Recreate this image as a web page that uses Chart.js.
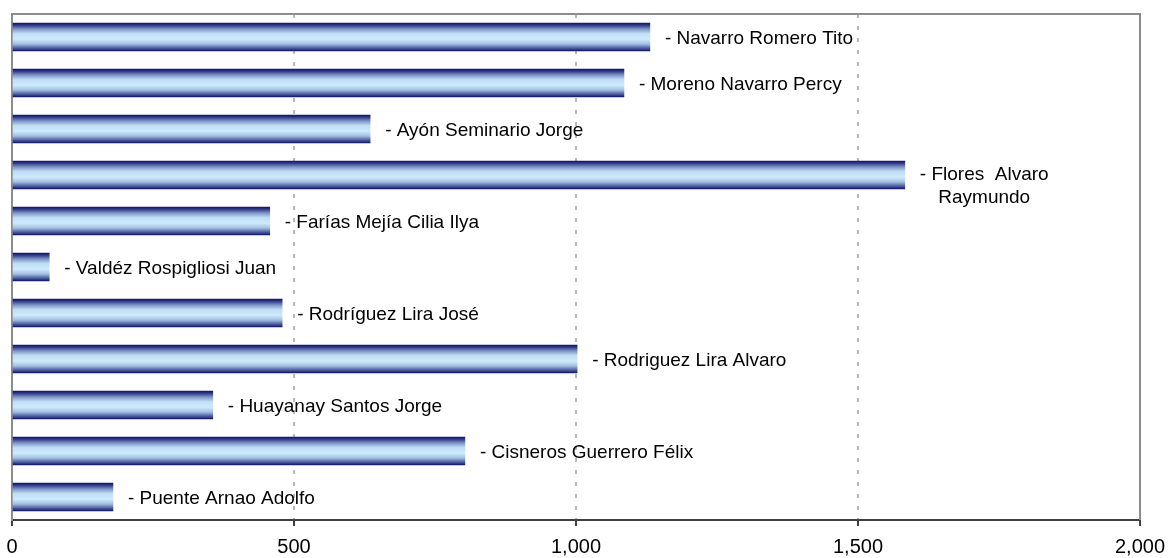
<!DOCTYPE html>
<html>
<head>
<meta charset="utf-8">
<script src="https://cdn.jsdelivr.net/npm/chart.js@4.4.0/dist/chart.umd.min.js"></script>
<style>
  html, body { margin: 0; padding: 0; background: #fff; }
  #wrap { width: 1169px; height: 558px; position: relative; }
</style>
</head>
<body>
<div id="wrap"><canvas id="barChart"></canvas></div>
<script>
// names shown next to each bar (top to bottom)
const names = [
  ['- Navarro Romero Tito'],
  ['- Moreno Navarro Percy'],
  ['- Ayón Seminario Jorge'],
  ['- Flores  Alvaro', 'Raymundo'],
  ['- Farías Mejía Cilia Ilya'],
  ['- Valdéz Rospigliosi Juan'],
  ['- Rodríguez Lira José'],
  ['- Rodriguez Lira Alvaro'],
  ['- Huayanay Santos Jorge'],
  ['- Cisneros Guerrero Félix'],
  ['- Puente Arnao Adolfo']
];
const values = [1131, 1085, 635, 1583, 457, 66, 479, 1002, 356, 803, 179];
const axisMin = 0;
const axisMax = 2000;
const axisStep = 500;

const BAR_H = 28;

// vertical tube gradient for each bar
function barFill(ctx) {
  const chart = ctx.chart;
  const yScale = chart.scales.y;
  if (ctx.dataIndex === undefined || !yScale) return '#9fbbe0';
  const yc = yScale.getPixelForValue(ctx.dataIndex);
  if (!isFinite(yc)) return '#9fbbe0';
  const g = chart.ctx.createLinearGradient(0, yc - BAR_H / 2, 0, yc + BAR_H / 2);
  g.addColorStop(0, '#14146c');
  g.addColorStop(0.07, '#2a3488');
  g.addColorStop(0.22, '#8198c6');
  g.addColorStop(0.38, '#c0def5');
  g.addColorStop(0.58, '#cdebfb');
  g.addColorStop(0.75, '#a3bfe2');
  g.addColorStop(0.9, '#4a5aa0');
  g.addColorStop(1, '#14146c');
  return g;
}

// labels next to the bar ends, top & right frame of plot area
const extras = {
  id: 'extras',
  afterDatasetsDraw(chart) {
    const c = chart.ctx;
    const meta = chart.getDatasetMeta(0);
    c.save();
    c.fillStyle = '#000';
    c.font = '19px "Liberation Sans", Arial, sans-serif';
    c.textBaseline = 'alphabetic';
    meta.data.forEach((bar, i) => {
      const lines = names[i];
      const x = bar.x + 15;
      if (lines.length === 1) {
        c.textAlign = 'left';
        c.fillText(lines[0], x, bar.y + 7);
      } else {
        const w = Math.max(...lines.map(l => c.measureText(l).width));
        c.textAlign = 'center';
        lines.forEach((l, k) => c.fillText(l, x + w / 2, bar.y + 5 + k * 23));
      }
    });
    c.restore();
  },
  afterDraw(chart) {
    const a = chart.chartArea;
    const c = chart.ctx;
    c.save();
    c.strokeStyle = '#8c8c8c';
    c.lineWidth = 2;
    c.beginPath();
    c.moveTo(a.left, a.top);
    c.lineTo(a.right, a.top);
    c.lineTo(a.right, a.bottom);
    c.stroke();
    c.restore();
  }
};

const ctx = document.getElementById('barChart').getContext('2d');
new Chart(ctx, {
  type: 'bar',
  data: {
    labels: names.map(n => n.join(' ')),
    datasets: [{
      data: values,
      backgroundColor: barFill,
      borderWidth: 0,
      barThickness: BAR_H
    }]
  },
  options: {
    indexAxis: 'y',
    responsive: true,
    maintainAspectRatio: false,
    animation: false,
    layout: { padding: { left: 12, right: 29, top: 14, bottom: 0 } },
    plugins: { legend: { display: false }, tooltip: { enabled: false } },
    scales: {
      x: {
        min: axisMin,
        max: axisMax,
        afterFit: s => { s.height = 38; s.paddingLeft = 0; s.paddingRight = 0; },
        ticks: {
          stepSize: axisStep,
          color: '#000',
          font: { family: '"Liberation Sans", Arial, sans-serif', size: 20 },
          padding: 9,
          maxRotation: 0,
          callback: v => v.toLocaleString('en-US')
        },
        grid: {
          color: '#b8b8b8',
          lineWidth: 2,
          tickLength: 6,
          tickColor: '#404040',
          tickWidth: 2
        },
        border: { color: '#404040', width: 2, dash: [4, 8] }
      },
      y: {
        afterFit: s => { s.width = 0; },
        ticks: { display: false },
        grid: { display: false },
        border: { color: '#8c8c8c', width: 2 }
      }
    }
  },
  plugins: [extras]
});
</script>
</body>
</html>
